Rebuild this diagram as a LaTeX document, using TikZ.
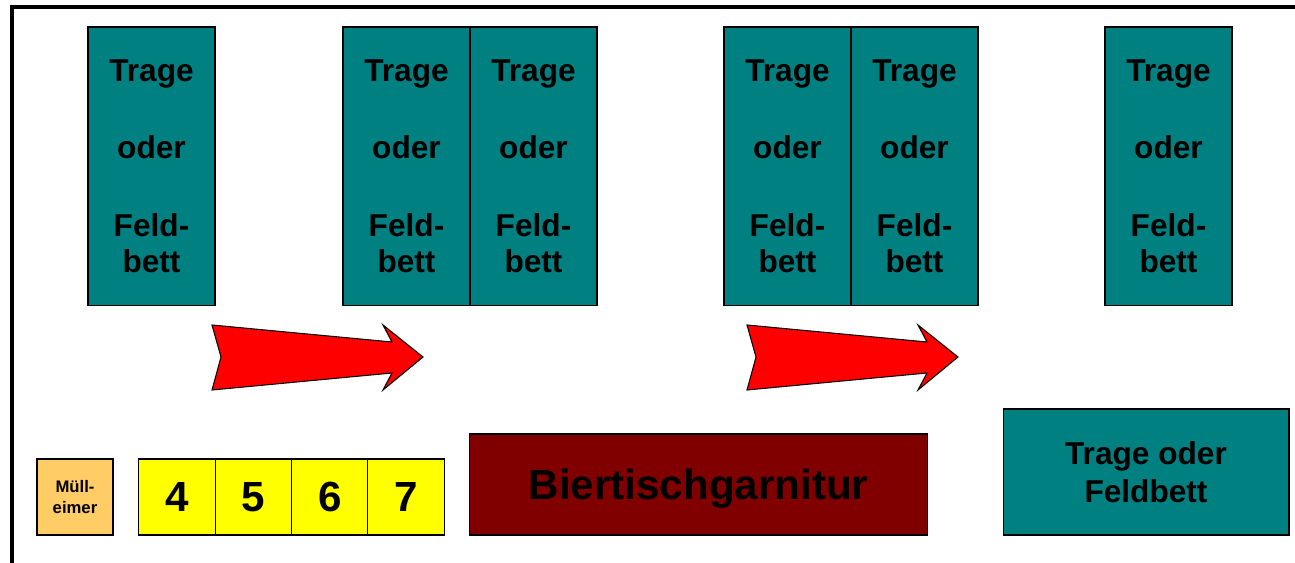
\documentclass[tikz,border=0pt]{standalone}
\usepackage{fontspec}
\setmainfont{Liberation Sans}
\usepackage{tikz}

\definecolor{bedteal}{HTML}{008080}
\definecolor{bankyellow}{HTML}{FFFF00}
\definecolor{tablered}{HTML}{800000}
\definecolor{binorange}{HTML}{FFCC66}
\newcommand{\bedtext}{Trage\\[23pt]oder\\[23pt]Feld-\\bett}

\tikzset{
  box/.style={draw=black,line width=0.6pt,inner sep=0pt,align=center,font=\bfseries},
  bed/.style={box,fill=bedteal,minimum width=2.54cm,minimum height=5.58cm,
    font=\bfseries\fontsize{18}{21}\selectfont},
  seat/.style={box,fill=bankyellow,minimum width=1.53cm,minimum height=1.52cm,
    font=\bfseries\fontsize{24}{28}\selectfont},
  move/.style={fill=red,draw=black,line width=0.6pt,line join=miter}
}

\begin{document}
\begin{tikzpicture}[x=0.02cm,y=-0.02cm]
\useasboundingbox (0,0) rectangle (1295,563);
\draw [line width=2.8pt] (12,7) rectangle (1320,590);
\node (bed1) at (151.5,166.5) [bed] {\bedtext};
\node (bed2) at (406.5,166.5) [bed] {\bedtext};
\node (bed3) at (533.5,166.5) [bed] {\bedtext};
\node (bed4) at (787.5,166.5) [bed] {\bedtext};
\node (bed5) at (914.5,166.5) [bed] {\bedtext};
\node (bed6) at (1168.5,166.5) [bed] {\bedtext};
\draw [move] (212,325) -- (392,342) -- (383,325) -- (423,357) -- (383,390) -- (392,373) -- (212,390) -- (221,357) -- cycle;
\draw [move] (747,325) -- (927,342) -- (918,325) -- (958,357) -- (918,390) -- (927,373) -- (747,390) -- (756,357) -- cycle;
\node (bin) at (75,497) [box,fill=binorange,minimum width=1.52cm,minimum height=1.52cm,
  font=\bfseries\fontsize{9.5}{12}\selectfont] {Müll-\\eimer};
\node (seat4) at (177,497) [seat] {4};
\node (seat5) at (253.5,497) [seat] {5};
\node (seat6) at (330,497) [seat] {6};
\node (seat7) at (406,497) [seat] {7};
\node (table) at (698.5,484.5) [box,fill=tablered,minimum width=9.18cm,minimum height=2.02cm,
  text depth=0pt,font=\bfseries\fontsize{24}{28}\selectfont] {Biertischgarnitur};
\node (bed7) at (1146,472) [box,fill=bedteal,minimum width=5.72cm,minimum height=2.52cm,
  font=\bfseries\fontsize{18}{21.5}\selectfont] {Trage oder\\Feldbett};
\end{tikzpicture}
\end{document}
